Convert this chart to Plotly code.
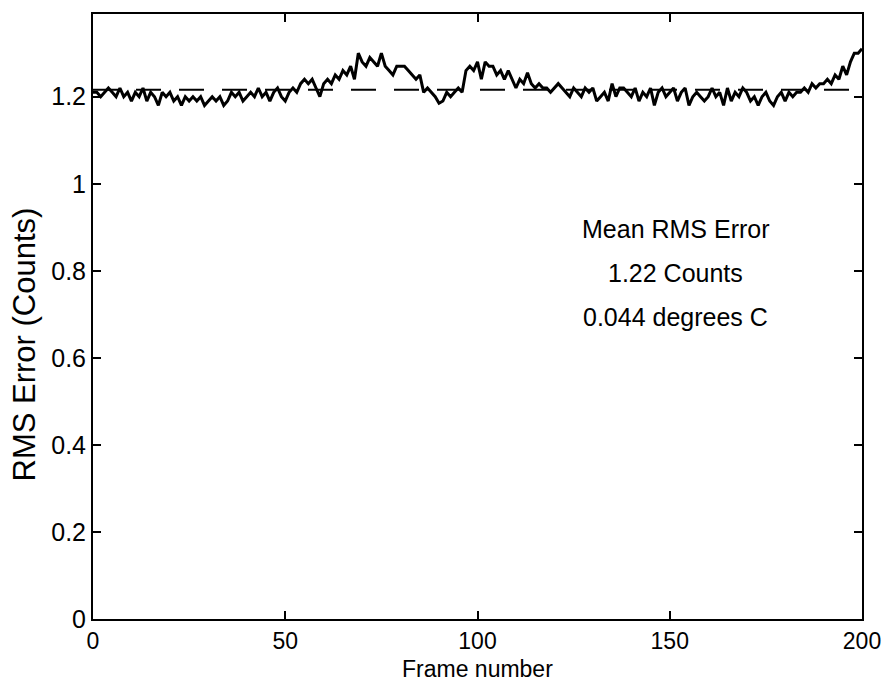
import plotly.graph_objects as go

frames = list(range(0, 201))
rms_error = [
    1.21, 1.21, 1.20, 1.21, 1.22, 1.21, 1.20, 1.22, 1.20, 1.21,
    1.19, 1.21, 1.20, 1.22, 1.19, 1.21, 1.20, 1.18, 1.21, 1.20,
    1.21, 1.19, 1.20, 1.18, 1.20, 1.19, 1.20, 1.19, 1.20, 1.18,
    1.19, 1.20, 1.19, 1.20, 1.18, 1.19, 1.21, 1.20, 1.21, 1.19,
    1.20, 1.21, 1.20, 1.22, 1.20, 1.21, 1.19, 1.21, 1.22, 1.20,
    1.19, 1.21, 1.22, 1.21, 1.23, 1.24, 1.23, 1.24, 1.22, 1.20,
    1.23, 1.24, 1.23, 1.25, 1.24, 1.26, 1.25, 1.27, 1.24, 1.30,
    1.28, 1.27, 1.29, 1.28, 1.27, 1.30, 1.27, 1.26, 1.25, 1.27,
    1.27, 1.27, 1.26, 1.25, 1.24, 1.25, 1.21, 1.22, 1.21, 1.20,
    1.185, 1.19, 1.21, 1.20, 1.21, 1.22, 1.21, 1.26, 1.27, 1.26,
    1.28, 1.24, 1.28, 1.27, 1.27, 1.25, 1.26, 1.24, 1.26, 1.24,
    1.22, 1.24, 1.23, 1.255, 1.23, 1.22, 1.23, 1.22, 1.22, 1.21,
    1.22, 1.23, 1.22, 1.21, 1.20, 1.22, 1.21, 1.20, 1.22, 1.21,
    1.22, 1.19, 1.20, 1.21, 1.19, 1.23, 1.20, 1.22, 1.22, 1.21,
    1.20, 1.22, 1.19, 1.21, 1.20, 1.22, 1.18, 1.21, 1.22, 1.20,
    1.21, 1.22, 1.19, 1.21, 1.22, 1.18, 1.20, 1.21, 1.20, 1.19,
    1.20, 1.22, 1.20, 1.21, 1.18, 1.22, 1.19, 1.21, 1.20, 1.22,
    1.21, 1.19, 1.20, 1.18, 1.20, 1.21, 1.19, 1.18, 1.20, 1.21,
    1.19, 1.21, 1.20, 1.21, 1.21, 1.22, 1.21, 1.23, 1.22, 1.23,
    1.23, 1.24, 1.23, 1.25, 1.24, 1.27, 1.25, 1.28, 1.30, 1.30,
    1.31,
]
mean_x = [0, 200]
mean_rms = [1.216, 1.216]

x_ticks = [0, 50, 100, 150, 200]
y_ticks = [0, 0.2, 0.4, 0.6, 0.8, 1.0, 1.2]
y_tick_labels = ["0", "0.2", "0.4", "0.6", "0.8", "1", "1.2"]
note_lines = ["Mean RMS Error", "1.22 Counts", "0.044 degrees C"]
note_y = [0.895, 0.795, 0.695]
note_x = 151.5

font_family = "Liberation Sans, Arial, Helvetica, sans-serif"

fig = go.Figure()
fig.add_trace(go.Scatter(x=mean_x, y=mean_rms, mode="lines",
                         line=dict(color="black", width=2, dash="25px,18px"),
                         showlegend=False, hoverinfo="skip"))
fig.add_trace(go.Scatter(x=frames, y=rms_error, mode="lines",
                         line=dict(color="black", width=3),
                         showlegend=False))

for txt, yy in zip(note_lines, note_y):
    fig.add_annotation(x=note_x, y=yy, text=txt, showarrow=False,
                       font=dict(size=25, color="black", family=font_family),
                       xanchor="center", yanchor="middle")

# axis titles
fig.add_annotation(xref="paper", yref="paper", x=0.5, y=0, yshift=-50,
                   text="Frame number", showarrow=False, xanchor="center", yanchor="middle",
                   font=dict(size=23, color="black", family=font_family))
fig.add_annotation(xref="paper", yref="paper", x=0, xshift=-69, y=0.5, yshift=-28,
                   text="RMS Error (Counts)", showarrow=False, textangle=-90,
                   xanchor="center", yanchor="middle",
                   font=dict(size=31, color="black", family=font_family))

fig.update_layout(
    width=896, height=683,
    margin=dict(l=93, r=34, t=12, b=64),
    paper_bgcolor="white", plot_bgcolor="white",
    font=dict(family=font_family, color="black", size=24),
)
fig.update_xaxes(
    range=[0, 200], tickvals=x_ticks, ticks="inside", ticklen=8, tickwidth=1.5,
    tickcolor="black", showline=True, linecolor="black", linewidth=2,
    mirror="ticks", showgrid=False, zeroline=False,
    tickfont=dict(size=23, family=font_family),
)
fig.update_yaxes(
    range=[0, 1.39], tickvals=y_ticks, ticktext=y_tick_labels, ticks="inside",
    ticklen=8, tickwidth=1.5, tickcolor="black", showline=True, linecolor="black",
    linewidth=2, mirror="ticks", showgrid=False, zeroline=False,
    tickfont=dict(size=25, family=font_family),
)

fig.write_html("out.html")
